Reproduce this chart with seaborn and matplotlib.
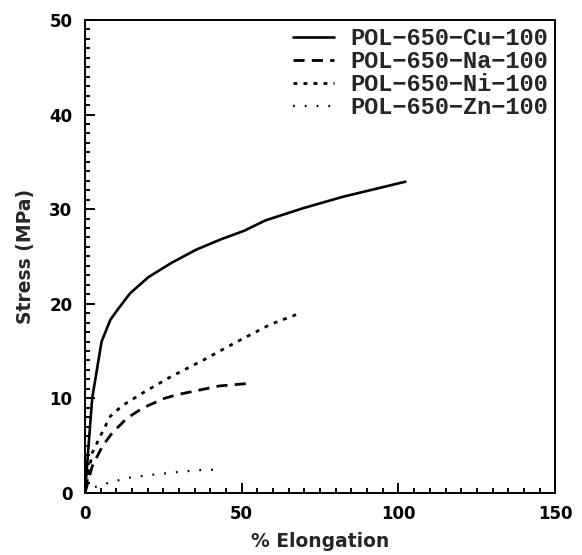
import numpy as np
import pandas as pd
import matplotlib
matplotlib.use("Agg")
import matplotlib.pyplot as plt
import seaborn as sns

# values
cu_x = [0, 2.3, 5.3, 8.1, 10.7, 14.4, 20.2, 27.5, 35.4, 43.3, 50.7, 57.5, 69.6, 82.2, 102.2]
cu_y = [0, 10.0, 16.0, 18.3, 19.5, 21.1, 22.8, 24.3, 25.7, 26.8, 27.7, 28.8, 30.1, 31.3, 32.9]

na_x = [0, 2.3, 5.5, 8.6, 13.4, 18.6, 25.4, 29.7, 37.0, 42.8, 53.3]
na_y = [0, 2.8, 4.9, 6.3, 7.9, 9.0, 10.0, 10.4, 10.9, 11.3, 11.6]

ni_x = [0, 2.3, 4.9, 8.1, 11.8, 19.1, 27.5, 38.1, 48.6, 59.1, 68.6]
ni_y = [0, 4.2, 6.0, 8.1, 9.2, 10.7, 12.3, 14.1, 16.0, 17.8, 19.0]

zn_x = [0, 2.0, 7.6, 13.9, 21.2, 29.7, 36.0, 43.8]
zn_y = [0, 0.5, 1.06, 1.6, 1.9, 2.2, 2.4, 2.46]

labels = ["POL\u2212650\u2212Cu\u2212100", "POL\u2212650\u2212Na\u2212100",
          "POL\u2212650\u2212Ni\u2212100", "POL\u2212650\u2212Zn\u2212100"]

series = [(cu_x, cu_y, "-", 1.9),
          (na_x, na_y, (0, (4.0, 2.6)), 2.0),
          (ni_x, ni_y, (0, (1.4, 2.2)), 2.0),
          (zn_x, zn_y, (0, (0.8, 4.5)), 1.6)]

sns.set_theme(style="ticks")
plt.rcParams["font.family"] = ["DejaVu Sans"]
plt.rcParams["font.weight"] = "bold"

fig = plt.figure(figsize=(5.82, 5.55), dpi=100)
ax = fig.add_axes([0.146, 0.112, 0.808, 0.852])

for (xs, ys, ls, lw), lab in zip(series, labels):
    df = pd.DataFrame({"x": xs, "y": ys})
    sns.lineplot(data=df, x="x", y="y", ax=ax, color="black", linestyle=ls,
                 linewidth=lw, label=lab, sort=False, estimator=None)

ax.set_xlim(0, 150)
ax.set_ylim(0, 50)
ax.set_xticks([0, 50, 100, 150])
ax.set_yticks([0, 10, 20, 30, 40, 50])
ax.set_xticks(np.arange(0, 151, 5), minor=True)
ax.set_yticks(np.arange(0, 51, 1), minor=True)
ax.tick_params(which="both", direction="in", colors="black", width=1.4)
ax.tick_params(which="major", length=7, labelsize=12, pad=9)
ax.tick_params(which="minor", length=3.5)
for s in ax.spines.values():
    s.set_linewidth(1.4)
    s.set_color("black")

ax.set_xlabel("% Elongation", fontsize=13.5, fontweight="bold", labelpad=6)
ax.set_ylabel("Stress (MPa)", fontsize=13.5, fontweight="bold", labelpad=10)

ax.legend(loc="upper right", frameon=False, handlelength=1.75, handletextpad=0.7,
          labelspacing=0.0, borderaxespad=0.0, borderpad=0.3,
          prop={"family": "Liberation Mono", "weight": "bold", "size": 17})

fig.savefig("out.png", dpi=100, facecolor="white")
